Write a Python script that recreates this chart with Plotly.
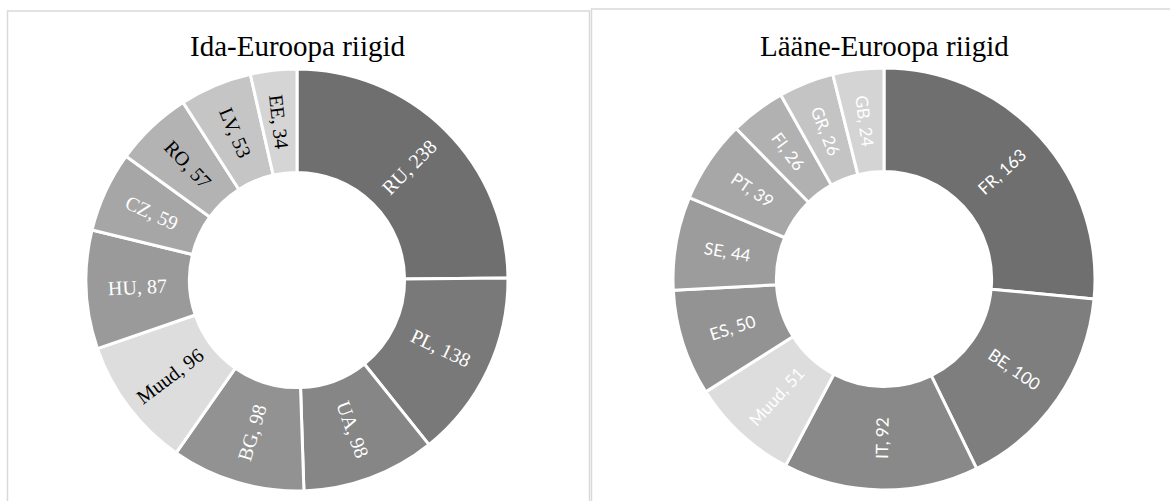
import math
import plotly.graph_objects as go

# Eastern Europe
east_labels = ["RU", "PL", "UA", "BG", "Muud", "HU", "CZ", "RO", "LV", "EE"]
east_values = [238, 138, 98, 98, 96, 87, 59, 57, 53, 34]
east_colors = ["#6f6f6f", "#797979", "#868686", "#929292", "#dddddd",
               "#9a9a9a", "#a6a6a6", "#b3b3b3", "#c5c5c5", "#d5d5d5"]
east_text_colors = ["white", "white", "white", "white", "black",
                    "white", "white", "black", "black", "black"]

# Western Europe
west_labels = ["FR", "BE", "IT", "Muud", "ES", "SE", "PT", "FI", "GR", "GB"]
west_values = [163, 100, 92, 51, 50, 44, 39, 26, 26, 24]
west_colors = ["#6f6f6f", "#7e7e7e", "#898989", "#dddddd", "#939393",
               "#9c9c9c", "#a7a7a7", "#b1b1b1", "#c4c4c4", "#d4d4d4"]
west_text_colors = ["white"] * len(west_labels)

W, H = 1170, 501
HOLE = 0.51


def px_x(v):
    return v / W


def px_y(v):
    return 1 - v / H


fig = go.Figure()


def add_donut(labels, values, colors, text_colors, cx, cy, radius, font):
    fig.add_trace(go.Pie(
        labels=labels, values=values,
        sort=False, direction="clockwise", rotation=0, hole=HOLE,
        marker=dict(colors=colors, line=dict(color="white", width=3)),
        textinfo="none",
        domain=dict(x=[px_x(cx - radius), px_x(cx + radius)],
                    y=[px_y(cy + radius), px_y(cy - radius)]),
        showlegend=False, hoverinfo="label+value",
    ))
    # slice labels, placed along each slice's middle radius line
    total = sum(values)
    r_mid = radius * (1 + HOLE) / 2
    start = 0.0
    for lab, val, tc in zip(labels, values, text_colors):
        span = 360.0 * val / total
        theta = start + span / 2
        start += span
        t = math.radians(theta)
        x = cx + r_mid * math.sin(t)
        y = cy - r_mid * math.cos(t)
        ang = theta - 90
        while ang > 90:
            ang -= 180
        while ang < -90:
            ang += 180
        fig.add_annotation(
            text=f"{lab}, {val}", x=px_x(x), y=px_y(y),
            xref="paper", yref="paper", showarrow=False,
            xanchor="center", yanchor="middle", textangle=ang,
            font=dict(family=font[0], size=font[1], color=tc))


add_donut(east_labels, east_values, east_colors, east_text_colors,
          297, 280, 211, ("Liberation Serif", 20))
add_donut(west_labels, west_values, west_colors, west_text_colors,
          884, 279, 211, ("Lato", 17))

# panel frames
fig.add_shape(type="rect", xref="paper", yref="paper",
              x0=px_x(7.5), x1=px_x(589.5), y0=-0.1, y1=px_y(11),
              line=dict(color="#d9d9d9", width=1.5), fillcolor="rgba(0,0,0,0)",
              layer="below")
fig.add_shape(type="rect", xref="paper", yref="paper",
              x0=px_x(591.5), x1=1.1, y0=-0.1, y1=px_y(9),
              line=dict(color="#d9d9d9", width=1.5), fillcolor="rgba(0,0,0,0)",
              layer="below")

# panel titles
fig.add_annotation(text="Ida-Euroopa riigid", x=px_x(298), y=px_y(46),
                   xref="paper", yref="paper", showarrow=False,
                   xanchor="center", yanchor="middle",
                   font=dict(family="Liberation Serif", size=29, color="black"))
fig.add_annotation(text="Lääne-Euroopa riigid", x=px_x(884), y=px_y(46),
                   xref="paper", yref="paper", showarrow=False,
                   xanchor="center", yanchor="middle",
                   font=dict(family="Liberation Serif", size=29, color="black"))

fig.update_layout(
    width=W, height=H,
    margin=dict(l=0, r=0, t=0, b=0),
    paper_bgcolor="white", plot_bgcolor="white",
)

fig.write_html("out.html")
